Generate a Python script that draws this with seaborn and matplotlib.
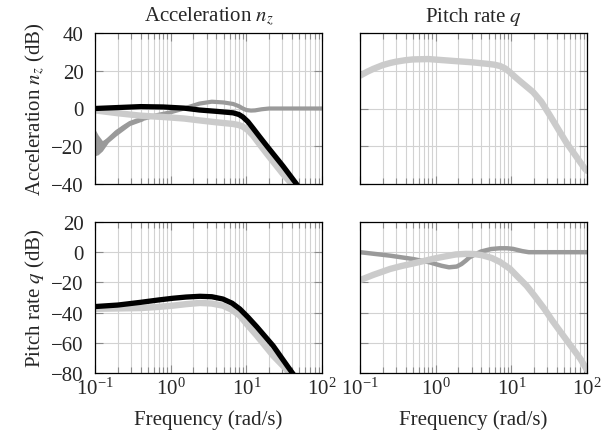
import numpy as np
import pandas as pd
import matplotlib
matplotlib.use("Agg")
import matplotlib.pyplot as plt
from matplotlib.ticker import LogLocator, NullFormatter, FixedLocator
import seaborn as sns

# ---- frequency responses (magnitude in dB) ----
# acceleration n_z, acceleration input
acc_acc_black_w = [0.1, 0.2, 0.4, 0.8, 1.5, 2.4, 4.0, 6.7, 8.0, 9.0, 10.5, 12.3, 15.0,
                   18.7, 30.5, 47]
acc_acc_black_db = [0.0, 0.5, 1.0, 0.8, 0.2, -0.8, -1.5, -2.3, -3.2, -4.5, -7.0, -10.5,
                    -15.0, -19.9, -30.5, -40.5]

acc_acc_light_w = [0.1, 0.2, 0.4, 0.8, 1.5, 2.4, 4.0, 6.7, 8.0, 9.0, 10.5, 12.3, 15.0,
                   18.7, 30.5, 42]
acc_acc_light_db = [-1.0, -2.5, -3.8, -4.5, -5.3, -6.3, -7.3, -8.2, -8.8, -9.6, -11.5, -14.4,
                    -19.0, -24.0, -34.7, -41.0]

acc_acc_dark_w = [0.1, 0.11, 0.125, 0.15, 0.19, 0.24, 0.29, 0.36, 0.43, 0.66, 1.0, 1.5,
                  2.0, 2.4, 3.5, 5.0, 6.7, 8.0, 9.0, 10.0, 11.5, 13.0, 16.0, 20.0, 100.0]
acc_acc_dark_db = [-18.0, -19.2, -19.8, -16.5, -12.7, -9.8, -7.7, -6.3, -5.5, -3.5, -2.0,
                   0.0, 1.6, 2.6, 3.6, 3.2, 2.4, 1.2, 0.0, -0.8, -1.1, -1.0, -0.4, 0.0, 0.0]

# spread of the dark response at low frequency
acc_band_w = [0.1, 0.11, 0.125, 0.15, 0.19, 0.29, 0.43]
acc_band_hi = [-11.0, -14.0, -17.0, -15.0, -11.0, -6.5, -4.5]
acc_band_lo = [-25.0, -24.5, -22.5, -18.0, -14.5, -9.0, -6.5]

# pitch rate q, acceleration input
acc_q_light_w = [0.1, 0.125, 0.15, 0.2, 0.25, 0.3, 0.4, 0.5, 0.8, 1.0, 2.0, 3.0, 5.0, 6.0,
                 7.1, 8.3, 9.6, 11.0, 13.0, 16.0, 19.5, 25.0, 32.5, 53.0, 94.0, 100.0]
acc_q_light_db = [17.4, 19.5, 21.0, 23.0, 24.1, 24.8, 25.6, 26.0, 26.2, 25.9, 25.0, 24.5,
                  23.6, 23.2, 22.5, 21.2, 19.2, 17.0, 14.5, 11.5, 8.6, 3.5, -3.8, -17.9,
                  -32.0, -33.0]

# acceleration n_z, pitch-rate input
q_acc_black_w = [0.1, 0.2, 0.4, 0.7, 1.07, 1.6, 2.44, 3.5, 4.9, 6.5, 8.2, 10.5, 13.8, 22.6,
                 35.6, 42.0]
q_acc_black_db = [-36.0, -35.0, -33.2, -31.6, -30.5, -29.7, -29.2, -29.5, -31.0, -33.8,
                  -37.6, -43.0, -49.5, -62.0, -76.0, -81.0]

q_acc_light_w = [0.1, 0.4, 0.7, 1.07, 1.6, 2.44, 3.5, 4.9, 6.5, 8.2, 10.5, 13.8, 22.6, 33.0,
                 38.0]
q_acc_light_db = [-37.5, -37.0, -36.2, -35.4, -34.4, -33.6, -34.0, -35.4, -38.2, -42.0,
                  -48.5, -55.3, -68.5, -77.0, -81.0]

# pitch rate q, pitch-rate input
q_q_dark_w = [0.1, 0.25, 0.5, 0.83, 1.05, 1.2, 1.5, 1.9, 2.2, 2.5, 2.8, 3.4, 4.0, 5.4, 7.0,
              8.8, 10.5, 12.0, 14.0, 17.0, 100.0]
q_q_dark_db = [0.0, -2.3, -4.5, -6.7, -8.2, -9.0, -10.0, -9.5, -7.8, -5.6, -3.4, -1.2, 0.5,
               2.1, 2.6, 2.6, 2.2, 1.5, 0.7, 0.0, 0.0]

q_q_light_w = [0.1, 0.15, 0.25, 0.35, 0.5, 0.7, 1.0, 1.4, 1.84, 2.5, 3.2, 4.1, 5.5, 7.1,
               9.6, 12.0, 15.9, 20.0, 27.4, 35.0, 45.0, 60.0, 82.0, 100.0]
q_q_light_db = [-18.5, -15.0, -11.1, -9.2, -7.5, -5.8, -4.0, -2.6, -1.5, -1.1, -1.2, -2.0,
                -3.8, -6.5, -11.0, -16.0, -22.2, -28.5, -37.6, -45.5, -53.0, -61.5,
                -70.7, -78.0]

col_titles = ["Acceleration $n_z$", "Pitch rate $q$"]
row_labels = ["Acceleration $n_z$ (dB)", "Pitch rate $q$ (dB)"]
row_yticks = [[-40, -20, 0, 20, 40], [-80, -60, -40, -20, 0, 20]]
xlabel = "Frequency (rad/s)"

BLACK = "#000000"
DARK = "#9a9a9a"
LIGHT = "#cbcbcb"
FS = 15

sns.set_theme(style="white")
plt.rcParams["font.family"] = ["Liberation Serif", "DejaVu Serif"]
plt.rcParams["mathtext.fontset"] = "stix"
plt.rcParams["font.size"] = FS

fig = plt.figure(figsize=(6.12, 4.39), dpi=100)
W = 227 / 612
H = 151 / 439
lefts = [95 / 612, 360 / 612]
bottoms = [1 - 185 / 439, 1 - 374 / 439]
axes = [[fig.add_axes([lefts[c], bottoms[r], W, H]) for c in range(2)] for r in range(2)]


def curve(ax, w, db, color, lw):
    df = pd.DataFrame({"w": w, "db": db})
    sns.lineplot(data=df, x="w", y="db", ax=ax, color=color, linewidth=lw,
                 sort=False, estimator=None, solid_capstyle="round",
                 solid_joinstyle="round")


# row 0
ax = axes[0][0]
ax.fill_between(acc_band_w, acc_band_lo, acc_band_hi, color=DARK, lw=0, zorder=2)
curve(ax, acc_acc_dark_w, acc_acc_dark_db, DARK, 3.0)
curve(ax, acc_acc_light_w, acc_acc_light_db, LIGHT, 4.6)
curve(ax, acc_acc_black_w, acc_acc_black_db, BLACK, 3.8)

ax = axes[0][1]
curve(ax, acc_q_light_w, acc_q_light_db, LIGHT, 4.6)

# row 1
ax = axes[1][0]
curve(ax, q_acc_light_w, q_acc_light_db, LIGHT, 4.6)
curve(ax, q_acc_black_w, q_acc_black_db, BLACK, 3.8)

ax = axes[1][1]
curve(ax, q_q_dark_w, q_q_dark_db, DARK, 3.2)
curve(ax, q_q_light_w, q_q_light_db, LIGHT, 4.6)

for r in range(2):
    for c in range(2):
        ax = axes[r][c]
        ax.set_xscale("log")
        ax.set_xlim(0.1, 100)
        yt = row_yticks[r]
        ax.set_ylim(yt[0], yt[-1])
        ax.yaxis.set_major_locator(FixedLocator(yt))
        ax.xaxis.set_major_locator(LogLocator(base=10, numticks=10))
        ax.xaxis.set_minor_locator(LogLocator(base=10, subs=np.arange(2, 10), numticks=20))
        ax.xaxis.set_minor_formatter(NullFormatter())
        ax.grid(which="major", axis="both", color="#d2d2d2", lw=0.8, zorder=0)
        ax.grid(which="minor", axis="x", color="#d2d2d2", lw=0.8, zorder=0)
        ax.set_axisbelow(True)
        ax.tick_params(which="both", direction="in", top=True, right=True,
                       bottom=True, left=True, color="#8a8a8a", width=0.8,
                       labelsize=FS)
        ax.tick_params(which="major", length=6, pad=3)
        ax.tick_params(which="minor", length=4)
        ax.tick_params(axis="y", which="major", pad=8)
        for s in ax.spines.values():
            s.set_color("black")
            s.set_linewidth(0.9)
            s.set_zorder(5)
        ax.set_xlabel("")
        ax.set_ylabel("")
        if r == 0:
            ax.tick_params(labelbottom=False)
            ax.set_title(col_titles[c], fontsize=FS, pad=9)
        else:
            ax.set_xlabel(xlabel, fontsize=FS, labelpad=8)
        if c == 1:
            ax.tick_params(labelleft=False)
        else:
            ax.set_ylabel(row_labels[r], fontsize=FS, labelpad=3)

fig.savefig("out.png", dpi=100)
